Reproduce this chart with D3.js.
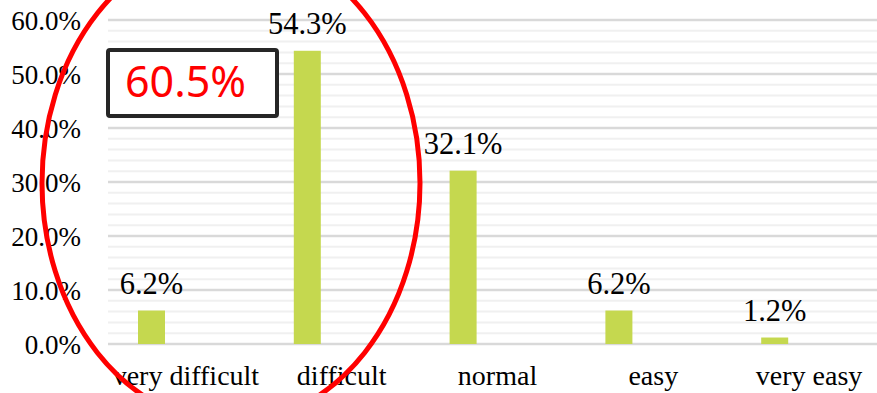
<!DOCTYPE html>
<html>
<head>
<meta charset="utf-8">
<script src="https://cdn.jsdelivr.net/npm/d3@7"></script>
<style>
  html, body { margin: 0; padding: 0; background: #fff; }
  svg { display: block; }
  .serif { font-family: "Liberation Serif", "Times New Roman", Tinos, serif; }
</style>
</head>
<body>
<svg id="chart" width="877" height="393"></svg>
<script>
const categories = ["very difficult", "difficult", "normal", "easy", "very easy"];
const values = [6.2, 54.3, 32.1, 6.2, 1.2];
const yTicks = [0, 10, 20, 30, 40, 50, 60];
const minorTicks = d3.range(0, 60.001, 2);
const highlightLabel = "60.5%";

const W = 877, H = 393;
const plot = { left: 108, right: 887, top: 20, bottom: 344 };

const svg = d3.select("#chart");

const x = d3.scaleBand().domain(categories).range([plot.left, plot.right]).padding(0);
const y = d3.scaleLinear().domain([0, 60]).range([plot.bottom, plot.top]);

const barWidth = 27;
const barShift = -34.4; // bar centre relative to the category centre

// minor gridlines
svg.append("g").selectAll("line").data(minorTicks.filter(v => v % 10 !== 0)).join("line")
  .attr("x1", plot.left).attr("x2", W)
  .attr("y1", d => y(d)).attr("y2", d => y(d))
  .attr("stroke", "#f0f0f0").attr("stroke-width", 2);

// major gridlines
svg.append("g").selectAll("line").data(yTicks).join("line")
  .attr("x1", plot.left).attr("x2", W)
  .attr("y1", d => y(d)).attr("y2", d => y(d))
  .attr("stroke", "#d9d9d9").attr("stroke-width", 2.5);

// y axis labels
const yAxis = d3.axisLeft(y).tickValues(yTicks).tickSize(0).tickPadding(0)
  .tickFormat(d => d.toFixed(1) + "%");
const gy = svg.append("g").attr("transform", "translate(81,0)").call(yAxis);
gy.attr("font-family", null).attr("font-size", null);
gy.select(".domain").remove();
gy.selectAll("text").attr("class", "serif")
  .style("font-size", "27px").attr("fill", "#000").attr("dy", "0.34em");

// x axis labels
const xAxis = d3.axisBottom(x).tickSize(0).tickPadding(0);
const gx = svg.append("g").attr("transform", "translate(0,365)").call(xAxis);
gx.attr("font-family", null).attr("font-size", null);
gx.select(".domain").remove();
gx.selectAll("text").attr("class", "serif")
  .style("font-size", "28px").attr("fill", "#000").attr("dy", "0.71em");

// bars
const barCx = c => x(c) + x.bandwidth() / 2 + barShift;
svg.append("g").selectAll("rect").data(categories).join("rect")
  .attr("x", c => barCx(c) - barWidth / 2)
  .attr("width", barWidth)
  .attr("y", (c, i) => y(values[i]))
  .attr("height", (c, i) => y(0) - y(values[i]))
  .attr("fill", "#c5d84f");

// data labels
svg.append("g").selectAll("text").data(categories).join("text")
  .attr("class", "serif")
  .attr("x", c => barCx(c))
  .attr("y", (c, i) => y(values[i]) - 17)
  .attr("text-anchor", "middle")
  .style("font-size", "30.5px").attr("fill", "#000")
  .text((c, i) => values[i].toFixed(1) + "%");

// annotation box
svg.append("rect")
  .attr("x", 108).attr("y", 50).attr("width", 169).attr("height", 66)
  .attr("rx", 2).attr("fill", "#fff")
  .attr("stroke", "#262626").attr("stroke-width", 4);
svg.append("text")
  .attr("x", 125).attr("y", 97)
  .style("font-family", "'Noto Sans', sans-serif")
  .style("font-size", "43px").attr("fill", "#ff0000")
  .text(highlightLabel);

// red ellipse
svg.append("ellipse")
  .attr("cx", 231).attr("cy", 183).attr("rx", 189).attr("ry", 240)
  .attr("fill", "none").attr("stroke", "#ff0000").attr("stroke-width", 5);
</script>
</body>
</html>
